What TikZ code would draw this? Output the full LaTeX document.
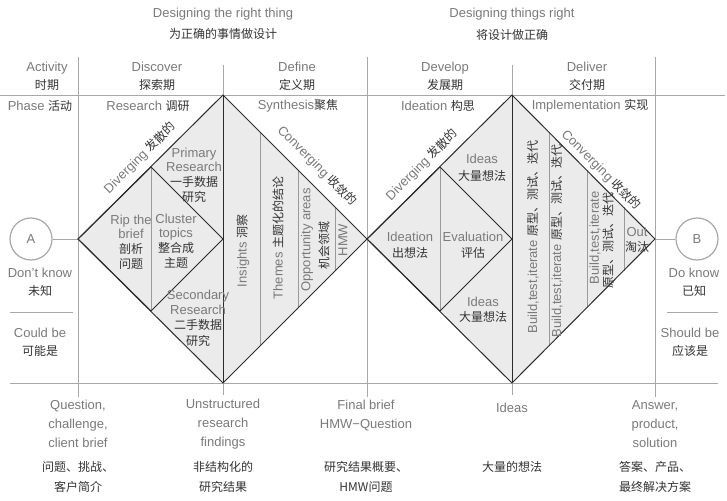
\documentclass[tikz,border=0pt]{standalone}
\usepackage{fontspec}
\setmainfont{Liberation Sans}
\newfontfamily\cjk{Noto Sans CJK SC}
\definecolor{entxt}{HTML}{7A7A7A}
\definecolor{zhtxt}{HTML}{333333}
\definecolor{gridc}{HTML}{A8A8A8}
\definecolor{innerc}{HTML}{9A9A9A}
\definecolor{darkl}{HTML}{2B2B2B}
\definecolor{fillc}{HTML}{EBEBEB}
\newcommand\zh[1]{{\cjk\fontsize{12}{14}\selectfont\color{zhtxt}#1}}
\tikzset{
  en/.style={font=\fontsize{13}{15}\selectfont, text=entxt, inner sep=0pt, align=center},
  tight/.style={en, font=\fontsize{13}{14.7}\selectfont},
  gridline/.style={draw=gridc, line width=0.8pt},
  dline/.style={draw=darkl, line width=1pt, line join=miter},
  innerline/.style={draw=innerc, line width=0.7pt},
  circ/.style={circle, draw=gridc, line width=1.2pt, minimum size=42pt, inner sep=0pt, font=\fontsize{13}{15}\selectfont, text=entxt}
}
\begin{document}
\begin{tikzpicture}[x=1pt,y=-1pt]
\useasboundingbox (0,0) rectangle (727,500);
\fill[white] (0,0) rectangle (727,500);
% key points
\coordinate (L1) at (78,239);
\coordinate (T1) at (223,95);
\coordinate (R1) at (367,239);
\coordinate (B1) at (223,383);
\coordinate (T2) at (512,95);
\coordinate (R2) at (655,239);
\coordinate (B2) at (512,383);
\coordinate (it1) at (151,167);
\coordinate (ib1) at (151,311);
\coordinate (it2) at (440,167);
\coordinate (ib2) at (440,311);
% fills
\fill[fillc] (L1) -- (T1) -- (R1) -- (B1) -- cycle;
\fill[fillc] (R1) -- (T2) -- (R2) -- (B2) -- cycle;
% grid
\draw[gridline] (0,95) -- (725,95);
\draw[gridline] (10,383) -- (718,383);
\draw[gridline] (78,57) -- (78,397);
\draw[gridline] (367,57) -- (367,397);
\draw[gridline] (655,57) -- (655,397);
\draw[gridline] (223,65) -- (T1);
\draw[gridline] (B1) -- (223,395);
\draw[gridline] (512,65) -- (T2);
\draw[gridline] (B2) -- (512,395);
\draw[gridline] (10,312) -- (73,312);
\draw[gridline] (667,312) -- (718,312);
% circles
\node[circ] (A) at (31,239) {A};
\node[circ] (B) at (697,239) {B};
\draw[gridline] (A) -- (L1);
\draw[gridline] (R2) -- (B);
% inner lines
\draw[innerline] (it1) -- (ib1);
\draw[innerline] (it2) -- (ib2);
\draw[innerline] (260,132) -- (260,346);
\draw[innerline] (298,170) -- (298,308);
\draw[innerline] (335,207) -- (335,271);
\draw[innerline] (549,132) -- (549,346);
\draw[innerline] (587,170) -- (587,308);
\draw[innerline] (624,207) -- (624,271);
% dark diamonds
\draw[dline] (L1) -- (T1) -- (R1) -- (B1) -- cycle;
\draw[dline] (R1) -- (T2) -- (R2) -- (B2) -- cycle;
\draw[dline] (T1) -- (B1);
\draw[dline] (T2) -- (B2);
\draw[dline] (L1) -- (it1) -- (T1|-R1) -- (ib1) -- cycle;
\draw[dline] (R1) -- (it2) -- (T2|-R2) -- (ib2) -- cycle;
% titles
\node[en] (t1) at (223,14) {Designing the right thing};
\node[en] (t1z) at (223,34) {\zh{为正确的事情做设计}};
\node[en] (t2) at (512,14) {Designing things right};
\node[en] (t2z) at (512,35) {\zh{将设计做正确}};
% header
\node[en, font=\fontsize{13}{18}\selectfont] (h0) at (47,76) {Activity\\\zh{时期}};
\node[en, font=\fontsize{13}{18}\selectfont] (h1) at (157,76) {Discover\\\zh{探索期}};
\node[en, font=\fontsize{13}{18}\selectfont] (h2) at (297,76) {Define\\\zh{定义期}};
\node[en, font=\fontsize{13}{18}\selectfont] (h3) at (445,76) {Develop\\\zh{发展期}};
\node[en, font=\fontsize{13}{18}\selectfont] (h4) at (587,76) {Deliver\\\zh{交付期}};
\node[en] (p0) at (40,106) {Phase \zh{活动}};
\node[en] (p1) at (148,106) {Research \zh{调研}};
\node[en] (p2) at (298,106) {Synthesis\zh{聚焦}};
\node[en] (p3) at (438,106) {Ideation \zh{构思}};
\node[en] (p4) at (590,106) {Implementation \zh{实现}};
% side labels
\node[en, font=\fontsize{13}{18}\selectfont] (dk) at (40,282) {Don't know\\\zh{未知}};
\node[en, font=\fontsize{13}{18}\selectfont] (cb) at (40,342) {Could be\\\zh{可能是}};
\node[en, font=\fontsize{13}{18}\selectfont] (dok) at (694,282) {Do know\\\zh{已知}};
\node[en, font=\fontsize{13}{18}\selectfont] (sb) at (690,342) {Should be\\\zh{应该是}};
% diverging / converging
\node[en, rotate=45] (dv1) at (140,158) {Diverging \zh{发散的}};
\node[en, rotate=45] (dv2) at (422,165) {Diverging \zh{发散的}};
\node[en, rotate=-45] (cv1) at (317,166) {Converging \zh{收敛的}};
\node[en, rotate=-45] (cv2) at (601,170) {Converging \zh{收敛的}};
% discover half
\node[tight] (pr) at (194,175) {Primary\\Research\\\zh{一手数据}\\\zh{研究}};
\node[tight] (rb) at (131,242) {Rip the\\brief\\\zh{剖析}\\\zh{问题}};
\node[tight] (ct) at (176,241) {Cluster\\topics\\\zh{整合成}\\\zh{主题}};
\node[en, font=\fontsize{13}{15.3}\selectfont] (sr) at (198,318) {Secondary\\Research\\\zh{二手数据}\\\zh{研究}};
% define half
\node[en, rotate=90] (ins) at (243,251) {Insights \zh{洞察}};
\node[en, rotate=90] (thm) at (278,238) {Themes \zh{主题化的结论}};
\node[en, rotate=90] (opp) at (307,240) {Opportunity areas};
\node[en, rotate=90] (oppz) at (324,245) {\zh{机会领域}};
\node[en, rotate=90] (hmw) at (343,240) {HMW};
% develop half
\node[en, font=\fontsize{13}{17}\selectfont] (id1) at (482,168) {Ideas\\\zh{大量想法}};
\node[en, font=\fontsize{13}{16}\selectfont] (ide) at (410,245) {Ideation\\\zh{出想法}};
\node[en, font=\fontsize{13}{16}\selectfont] (eva) at (473,245) {Evaluation\\\zh{评估}};
\node[en, font=\fontsize{13}{15}\selectfont] (id2) at (483,310) {Ideas\\\zh{大量想法}};
% deliver half
\node[en, rotate=90] (bt1) at (533,237) {Build,test,iterate \zh{原型、测试、迭代}};
\node[en, rotate=90] (bt2) at (557,241) {Build,test,iterate \zh{原型、测试、迭代}};
\node[en, rotate=90] (bt3) at (595,238) {Build,test,iterate};
\node[en, rotate=90] (bt3z) at (608,240) {\zh{原型、测试、迭代}};
\node[en, font=\fontsize{13}{15}\selectfont] (out) at (637,240) {Out\\\zh{淘汰}};
% bottom labels
\node[en, font=\fontsize{13}{19}\selectfont] (o1) at (78,424) {Question,\\challenge,\\client brief};
\node[en, font=\fontsize{13}{20}\selectfont] (o1z) at (78,477) {\zh{问题、挑战、}\\\zh{客户简介}};
\node[en, font=\fontsize{13}{19}\selectfont] (o2) at (223,424) {Unstructured\\research\\findings};
\node[en, font=\fontsize{13}{20}\selectfont] (o2z) at (223,477) {\zh{非结构化的}\\\zh{研究结果}};
\node[en, font=\fontsize{13}{19}\selectfont] (o3) at (366,416) {Final brief\\HMW−Question};
\node[en, font=\fontsize{13}{20}\selectfont] (o3z) at (366,477) {\zh{研究结果概要、}\\\zh{HMW问题}};
\node[en] (o4) at (512,408) {Ideas};
\node[en] (o4z) at (512,467) {\zh{大量的想法}};
\node[en, font=\fontsize{13}{19}\selectfont] (o5) at (655,424) {Answer,\\product,\\solution};
\node[en, font=\fontsize{13}{20}\selectfont] (o5z) at (655,477) {\zh{答案、产品、}\\\zh{最终解决方案}};
\end{tikzpicture}
\end{document}
